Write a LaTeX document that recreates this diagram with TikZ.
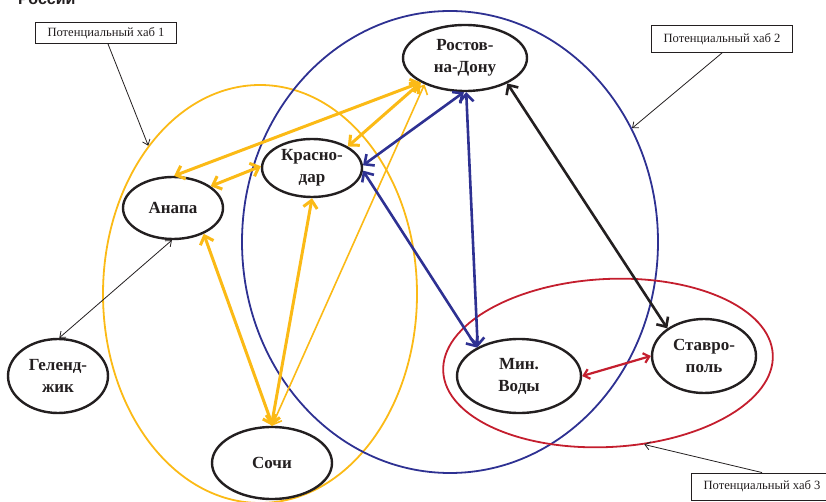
\documentclass[tikz,border=0pt]{standalone}
\usepackage{fontspec}
\setmainfont{Liberation Serif}
\newfontfamily\titlefont{Liberation Sans}
\usetikzlibrary{arrows.meta,shapes.geometric}
\definecolor{hubyellow}{HTML}{FBBA16}
\definecolor{hubblue}{HTML}{2E3192}
\definecolor{hubred}{HTML}{C41E2E}
\definecolor{inkblack}{HTML}{231F20}
\begin{document}
\begin{tikzpicture}[x=1pt,y=-1pt,
  city/.style={ellipse, draw=inkblack, line width=2.4pt, fill=white, inner sep=0pt,
    align=center, text=inkblack, font=\fontsize{17}{22}\selectfont\bfseries},
  hub/.style={ellipse, inner sep=0pt, line width=1.8pt},
  hublabel/.style={draw=inkblack, line width=0.9pt, fill=white, inner sep=0pt,
    minimum width=141pt, text=inkblack, font=\fontsize{12.6}{14}\selectfont},
  bigtip/.tip={Straight Barb[length=7.5pt,width=14pt]},
  smalltip/.tip={Straight Barb[length=5.5pt,width=10pt]},
  thintip/.tip={Straight Barb[length=5pt,width=8pt]},
  yarrow/.style={draw=hubyellow, line width=3pt, bigtip-bigtip},
  ythin/.style={draw=hubyellow, line width=1.6pt, bigtip-bigtip},
  barrow/.style={draw=hubblue, line width=2.6pt, bigtip-bigtip},
  karrow/.style={draw=inkblack, line width=2.6pt, bigtip-bigtip},
  rarrow/.style={draw=hubred, line width=2.2pt, smalltip-smalltip},
  thinarrow/.style={draw=inkblack, line width=0.8pt, thintip-thintip},
  pointer/.style={draw=inkblack, line width=0.8pt, -thintip}]
\useasboundingbox (0,0) rectangle (826,502);
\clip (0,0) rectangle (826,502);

% hub ellipses
\node[hub, draw=hubyellow, minimum width=314pt, minimum height=418pt] (hub1) at (260,294) {};
\node[hub, draw=hubblue, minimum width=416pt, minimum height=462pt] (hub2) at (450,242) {};
\node[hub, draw=hubred, minimum width=330pt, minimum height=168pt, rotate=3] (hub3) at (608,363) {};

% cut-off title
\node[anchor=base west, inner sep=0pt, text=inkblack, font=\titlefont\bfseries\fontsize{16}{16}\selectfont] (title) at (18,5) {России};

% cities
\node[city, minimum width=124pt, minimum height=66pt] (rostov) at (465,58) {Ростов-\\на-Дону};
\node[city, minimum width=100pt, minimum height=58pt] (kras) at (312,168) {Красно-\\дар};
\node[city, minimum width=100pt, minimum height=62pt] (anapa) at (173,208) {Анапа};
\node[city, minimum width=100pt, minimum height=74pt] (gel) at (58,376) {Геленд-\\жик};
\node[city, minimum width=120pt, minimum height=72pt] (sochi) at (272,463) {Сочи};
\node[city, minimum width=124pt, minimum height=74pt] (minv) at (519,376) {Мин.\\Воды};
\node[city, minimum width=104pt, minimum height=74pt] (stav) at (704,356) {Ставро-\\поль};

% hub labels
\node[hublabel, minimum height=21pt] (hab1) at (106,33) {Потенциальный хаб 1};
\node[hublabel, minimum height=27pt] (hab2) at (722,39) {Потенциальный хаб 2};
\node[hublabel, minimum height=27pt] (hab3) at (762,486.5) {Потенциальный хаб 3};

% yellow links
\draw[yarrow] (anapa.88) -- (rostov.209);
\draw[yarrow] (anapa.30) -- (kras.178);
\draw[yarrow] (kras.31) -- (rostov.209);
\draw[yarrow] (kras.-90) -- (sochi.91);
\draw[yarrow] (anapa.-40) -- (sochi.89);
\draw[ythin] (rostov.213) -- (sochi.90);
% blue links
\draw[barrow] (kras.3) -- (rostov.-92);
\draw[barrow] (rostov.-88) -- (minv.145);
\draw[barrow] (kras.-3) -- (minv.146);
% black and red links
\draw[karrow] (rostov.-31) -- (stav.143);
\draw[rarrow] (minv.0) -- (stav.180);
\draw[thinarrow] (gel.88) -- (anapa.-92);

% pointers
\draw[pointer] ([xshift=2pt]hab1.south) -- (hub1.127);
\draw[pointer] (hab2.south) -- (hub2.32);
\draw[pointer] (hab3.north) -- (hub3.-69);
\end{tikzpicture}
\end{document}
